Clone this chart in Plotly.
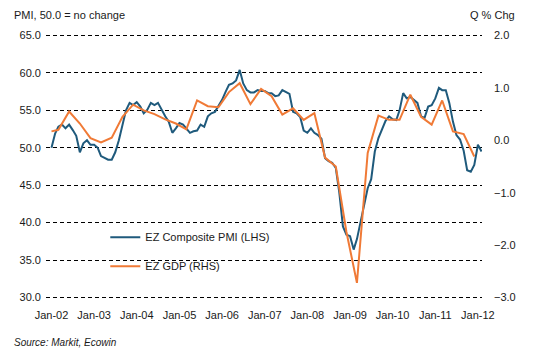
import pandas as pd
import plotly.graph_objects as go

# ---- data ----
pmi_start = "2002-01-01"
pmi_values = [
    50.0, 51.9, 52.8, 53.1, 52.6, 53.1, 52.4, 51.6, 49.4, 50.6, 51.0, 50.4,   # 2002
    50.4, 50.0, 48.9, 48.6, 48.4, 48.4, 49.4, 51.0, 53.2, 55.0, 56.0, 55.7,   # 2003
    56.1, 55.5, 54.6, 55.1, 56.0, 55.7, 56.0, 55.0, 54.2, 53.5, 52.0, 52.6,   # 2004
    53.3, 53.1, 52.6, 52.0, 52.2, 52.3, 53.1, 52.8, 54.2, 54.6, 54.8, 55.5,   # 2005
    56.4, 57.5, 58.4, 58.6, 59.0, 60.4, 58.6, 57.7, 57.4, 57.4, 57.7, 57.6,   # 2006
    57.6, 57.3, 57.3, 56.9, 57.0, 57.7, 57.5, 57.2, 54.8, 54.6, 54.1, 52.3,   # 2007
    52.0, 52.6, 52.0, 51.7, 51.2, 48.6, 48.2, 48.0, 47.3, 44.0, 39.5, 38.4,   # 2008
    38.2, 36.4, 37.8, 40.0, 42.4, 44.6, 45.8, 49.5, 51.3, 52.4, 53.6, 54.2,   # 2009
    53.8, 53.7, 55.0, 57.3, 56.6, 56.8, 56.4, 56.0, 54.2, 54.0, 55.5, 55.7,   # 2010
    56.6, 58.0, 57.7, 57.7, 56.0, 53.5, 51.7, 51.1, 49.6, 47.0, 46.8, 47.7,   # 2011
    50.4, 49.5,                                                               # 2012
]
pmi_dates = pd.date_range(pmi_start, periods=len(pmi_values), freq="MS")

gdp_first_date = ["2002-01-01"]
gdp_quarter_dates = list(pd.date_range("2002-03-01", "2011-12-01", freq="3MS").strftime("%Y-%m-%d"))
gdp_dates = gdp_first_date + gdp_quarter_dates
gdp_values = [
    0.17,
    0.20, 0.55, 0.32, 0.04,     # 2002
    -0.04, 0.05, 0.45, 0.68,    # 2003
    0.57, 0.50, 0.40, 0.32,     # 2004
    0.21, 0.76, 0.65, 0.63,     # 2005
    0.92, 1.09, 0.69, 0.98,     # 2006
    0.84, 0.49, 0.61, 0.39,     # 2007
    0.52, -0.33, -0.50, -1.75,  # 2008
    -2.72, -0.24, 0.47, 0.39,   # 2009
    0.39, 0.87, 0.45, 0.30,     # 2010
    0.76, 0.17, 0.12, -0.31,    # 2011
]

left_ticks = [30, 35, 40, 45, 50, 55, 60, 65]
right_ticks = [-3, -2, -1, 0, 1, 2]

pmi_name = "EZ Composite PMI (LHS)"
gdp_name = "EZ GDP (RHS)"

BLUE = "#1f5a7c"
ORANGE = "#f07a36"
FONT = "Arial, Liberation Sans, sans-serif"
TXT = "#1a1a1a"

# small padding so the edge gridlines at 30 and 65 are drawn
PAD = 0.2
left_range = [30 - PAD, 65 + PAD]
right_range = [-3 - PAD / 7, 2 + PAD / 7]

fig = go.Figure()
fig.add_trace(go.Scatter(
    x=pmi_dates, y=pmi_values, mode="lines", name=pmi_name,
    line=dict(color=BLUE, width=2), yaxis="y", legendgroup="a",
))
fig.add_trace(go.Scatter(
    x=gdp_dates, y=gdp_values, mode="lines", name=gdp_name,
    line=dict(color=ORANGE, width=2), yaxis="y2", legendgroup="b",
))

# page body has an 8px margin, so the figure is 8px smaller than the window
fig.update_layout(
    width=539, height=351,
    margin=dict(l=35, r=65, t=26, b=60),
    paper_bgcolor="white", plot_bgcolor="white",
    font=dict(family=FONT, size=11, color=TXT),
    xaxis=dict(
        type="date",
        range=["2001-11-15", "2012-02-05"],
        tickvals=pd.date_range("2002-01-01", "2012-01-01", freq="YS"),
        tickformat="%b-%y",
        showgrid=False, zeroline=False, showline=False, ticks="",
        ticklabelstandoff=8,
        tickfont=dict(size=11, color=TXT),
    ),
    yaxis=dict(
        range=left_range, tickvals=left_ticks, tickformat=".1f",
        showgrid=True, gridcolor="black", gridwidth=1, griddash="4px,3px",
        zeroline=False, showline=False, ticks="",
        ticklabelstandoff=4,
        tickfont=dict(size=11, color=TXT),
    ),
    yaxis2=dict(
        range=right_range, tickvals=right_ticks, tickformat=".1f", ticksuffix="%",
        overlaying="y", side="right", showgrid=False, zeroline=False,
        showline=False, ticks="", ticklabelstandoff=11,
        tickfont=dict(size=11, color=TXT),
    ),
    legend=dict(
        x=0.136, xanchor="left", y=0.288, yanchor="top",
        bgcolor="rgba(255,255,255,0)", borderwidth=0,
        traceorder="grouped", tracegroupgap=10,
        font=dict(size=11, color=TXT),
    ),
    showlegend=True,
    shapes=[dict(
        type="rect", xref="paper", yref="paper",
        x0=0.039, x1=0.609, y0=0.05, y1=0.35,
        fillcolor="white", line=dict(width=0), layer="between",
    )],
    annotations=[
        dict(text="PMI, 50.0 = no change", xref="paper", yref="paper",
             x=-0.079, y=1.072, xanchor="left", yanchor="middle",
             showarrow=False, font=dict(size=11, color=TXT)),
        dict(text="Q % Chg", xref="paper", yref="paper",
             x=1.08, y=1.072, xanchor="right", yanchor="middle",
             showarrow=False, font=dict(size=11, color=TXT)),
        dict(text="<i>Source: Markit, Ecowin</i>", xref="paper", yref="paper",
             x=-0.079, y=-0.165, xanchor="left", yanchor="middle",
             showarrow=False, font=dict(size=10, color=TXT)),
    ],
)

fig.write_html("out.html")
